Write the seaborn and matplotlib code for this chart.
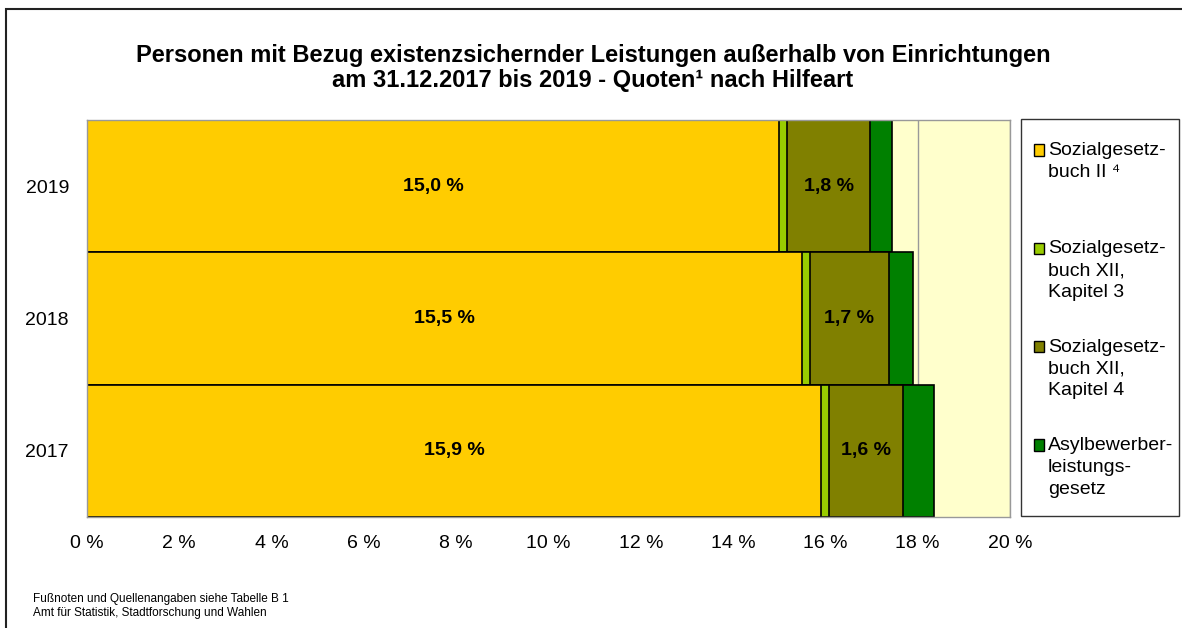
import matplotlib
matplotlib.use("Agg")
import matplotlib.pyplot as plt
import seaborn as sns
import numpy as np
from matplotlib.patches import Rectangle
from matplotlib.legend_handler import HandlerPatch

# ---------------- data ----------------
years = ["2019", "2018", "2017"]
sgb2 = [15.0, 15.5, 15.9]
sgb12_k3 = [0.17, 0.17, 0.18]
sgb12_k4 = [1.8, 1.7, 1.6]
asyl = [0.47, 0.53, 0.67]
series_labels = [
    "Sozialgesetz-\nbuch II \u2074\n ",
    "Sozialgesetz-\nbuch XII,\nKapitel 3",
    "Sozialgesetz-\nbuch XII,\nKapitel 4",
    "Asylbewerber-\nleistungs-\ngesetz",
]
colors = ["#FFCC00", "#99CC00", "#808000", "#008000"]
xtick_values = [0, 2, 4, 6, 8, 10, 12, 14, 16, 18, 20]
title = ("Personen mit Bezug existenzsichernder Leistungen außerhalb von Einrichtungen\n"
         "am 31.12.2017 bis 2019 - Quoten\u00b9 nach Hilfeart")
footnote = "Fußnoten und Quellenangaben siehe Tabelle B 1\nAmt für Statistik, Stadtforschung und Wahlen"

# ---------------- style ----------------
sns.set_style("white")
plt.rcParams["font.family"] = ["Liberation Sans", "DejaVu Sans"]
plt.rcParams["text.color"] = "black"
plt.rcParams["axes.labelcolor"] = "black"
plt.rcParams["xtick.color"] = "black"
plt.rcParams["ytick.color"] = "black"

W, H = 1182, 628
fig = plt.figure(figsize=(W / 100, H / 100), dpi=100)
ax = fig.add_axes([87 / W, 1 - 517 / H, (1010 - 87) / W, (517 - 120) / H])
ax.set_facecolor("#FFFFCC")

series = [sgb2, sgb12_k3, sgb12_k4, asyl]
cum = np.cumsum(np.array(series), axis=0)

for i in reversed(range(len(series))):
    sns.barplot(x=cum[i], y=years, order=years, orient="h", color=colors[i],
                saturation=1, width=1.0, edgecolor="black", linewidth=1.2, ax=ax)

# data labels
for j, yr in enumerate(years):
    ax.text(sgb2[j] / 2, j, f"{sgb2[j]:.1f} %".replace(".", ","), ha="center", va="center",
            fontsize=14, fontweight="bold", color="black")
    mid = cum[1][j] + sgb12_k4[j] / 2
    ax.text(mid, j, f"{sgb12_k4[j]:.1f} %".replace(".", ","), ha="center", va="center",
            fontsize=14, fontweight="bold", color="black")

ax.set_xlim(0, 20)
ax.set_ylim(2.5, -0.5)
ax.set_xticks(xtick_values)
ax.set_xticklabels([f"{v} %" for v in xtick_values])
ax.set_xlabel("")
ax.set_ylabel("")
ax.tick_params(axis="both", length=0, labelsize=14, colors="black")
ax.tick_params(axis="x", pad=13)
ax.tick_params(axis="y", pad=13)
ax.set_axisbelow(True)
ax.xaxis.grid(True, color="#999999", linewidth=1.0)
ax.yaxis.grid(False)
for s in ax.spines.values():
    s.set_visible(True)
    s.set_color("#999999")
    s.set_linewidth(1.0)

# title
fig.text(0.5 + 2 / W, 1 - 68 / H, title, ha="center", va="center", fontsize=17,
         fontweight="bold", linespacing=1.15)

# footnote
fig.text(33 / W, 1 - 606 / H, footnote, ha="left", va="center", fontsize=8.5,
         linespacing=1.2)


# legend with markers aligned to first line
class TopHandler(HandlerPatch):
    def __init__(self, shift, **kw):
        super().__init__(**kw)
        self.shift = shift

    def create_artists(self, legend, orig_handle, xdescent, ydescent, width, height,
                       fontsize, trans):
        p = Rectangle((-xdescent, -ydescent + self.shift), width, height,
                      facecolor=orig_handle.get_facecolor(), edgecolor="black",
                      linewidth=1.0, transform=trans)
        return [p]


handles = [Rectangle((0, 0), 1, 1, facecolor=c, edgecolor="black") for c in colors]
hmap = {h: TopHandler(shift=15.8) for h in handles}
leg = fig.legend(handles, series_labels, loc="upper left",
                 bbox_to_anchor=(1034 / W, 1 - 142 / H), bbox_transform=fig.transFigure,
                 frameon=False, fontsize=14, handlelength=0.52, handleheight=0.52,
                 handletextpad=0.2, labelspacing=1.94, borderpad=0, borderaxespad=0,
                 handler_map=hmap)
for t in leg.get_texts():
    t.set_linespacing(1.37)

# legend frame
fig.patches.append(Rectangle((1021 / W, 1 - 516 / H), (1179 - 1021) / W, (516 - 119) / H,
                             transform=fig.transFigure, fill=False, edgecolor="#333333",
                             linewidth=1.0))
# outer frame
fig.patches.append(Rectangle((6 / W, -0.05), 1.1, 1 - 9 / H + 0.05,
                             transform=fig.transFigure, fill=False, edgecolor="#222222",
                             linewidth=1.5))

fig.savefig("out.png", dpi=100)
